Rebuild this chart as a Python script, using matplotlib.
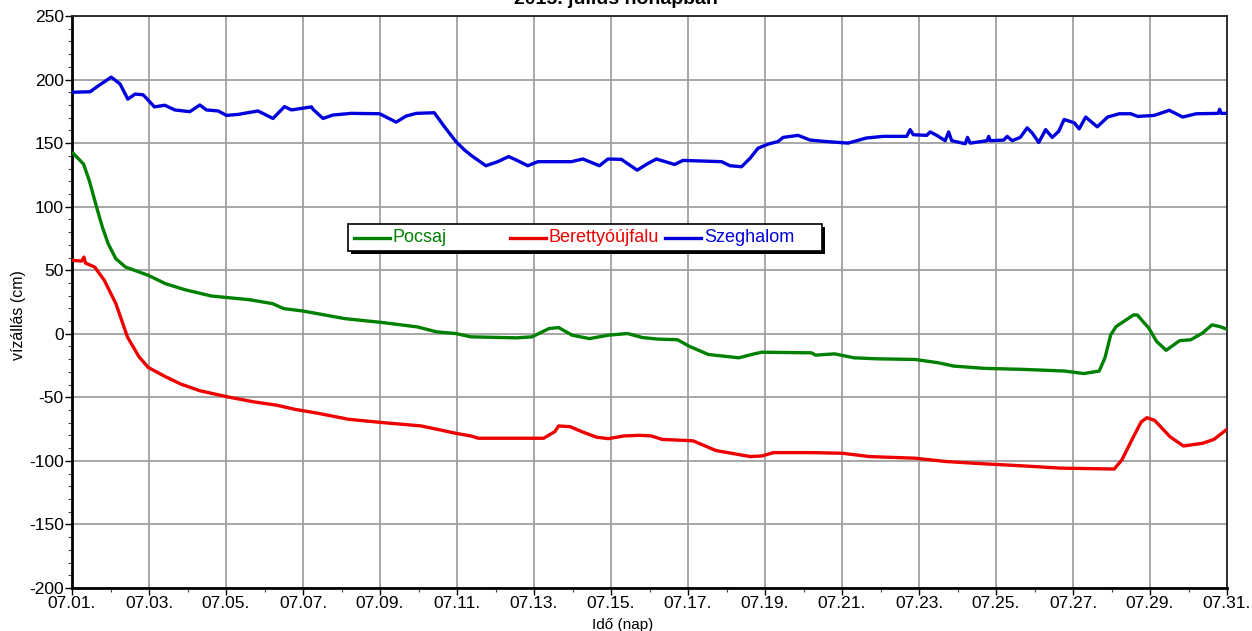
import matplotlib
matplotlib.use("Agg")
import matplotlib.pyplot as plt
from matplotlib.ticker import FixedLocator, MultipleLocator
from matplotlib.patches import Rectangle
from matplotlib.lines import Line2D

plt.rcParams['font.family'] = ['Liberation Sans', 'DejaVu Sans']
plt.rcParams['axes.unicode_minus'] = False

# Time in days since 07.01. 00:00, water level in cm
pocsaj_t = [0.03, 0.3, 0.45, 0.64, 0.79, 0.94, 1.14, 1.39, 1.98, 2.43, 2.93, 3.62, 4.61, 5.21, 5.5, 6.0,
            7.09, 8.08, 8.97, 9.47, 9.97, 10.36, 11.55, 11.95, 12.39, 12.64, 12.99, 13.44, 13.93, 14.43,
            14.82, 15.23, 15.73, 16.03, 16.53, 17.32, 17.72, 17.92, 19.21, 19.31, 19.81, 20.31, 20.91,
            21.9, 22.5, 22.9, 23.69, 24.69, 25.78, 26.28, 26.68, 26.83, 26.98, 27.12, 27.57, 27.67,
            27.97, 28.17, 28.42, 28.77, 29.06, 29.36, 29.61, 29.81, 30.0]
pocsaj_v = [142, 133.5, 120.4, 99.5, 83.8, 70.8, 59, 52.5, 46, 39.4, 34.7, 29.7, 26.8, 23.7, 19.8, 17.9,
            11.9, 8.8, 5.4, 1.5, 0.2, -2.4, -3.2, -2.4, 4.1, 4.9, -1.1, -3.8, -1.1, 0.2,
            -3, -4.2, -4.7, -9.8, -16.3, -18.9, -15.8, -14.5, -15, -16.8, -15.8, -18.9, -19.7,
            -20.2, -22.8, -25.4, -27.2, -28, -29.3, -31.3, -29.3, -18.9, -0.8, 5.7, 14.8, 14.8,
            4.4, -6, -13, -5.4, -4.7, 0.5, 7, 5.7, 3.6]

berettyo_t = [0.03, 0.25, 0.31, 0.35, 0.59, 0.84, 1.14, 1.44, 1.74, 1.98, 2.43, 2.83, 3.32, 4.02, 4.71,
              5.3, 5.8, 6.4, 7.19, 8.08, 9.07, 9.57, 9.97, 10.36, 10.56, 11.06, 11.55, 12.25, 12.54,
              12.64, 12.94, 13.24, 13.63, 13.93, 14.33, 14.72, 15.04, 15.33, 16.13, 16.73, 17.62,
              17.92, 18.22, 19.21, 20.01, 20.71, 21.9, 22.7, 23.69, 24.69, 25.68, 27.07, 27.27,
              27.57, 27.77, 27.92, 28.12, 28.52, 28.87, 29.36, 29.66, 30.0]
berettyo_v = [57.7, 57.2, 60.3, 55.6, 52.5, 42, 23.7, -2.5, -18.1, -26.5, -33.8, -39.6, -44.8, -49.5, -53.5,
              -56.1, -59.5, -62.6, -67.3, -69.9, -72.5, -75.7, -78.3, -80.4, -82.2, -82.2, -82.2, -82.2, -77,
              -72.5, -73.1, -77, -81.4, -82.5, -80.4, -79.9, -80.3, -83.1, -84.2, -91.9, -96.6,
              -96.1, -93.5, -93.5, -94, -96.6, -97.9, -100.5, -102.3, -103.9, -105.7, -106.4, -99.2,
              -81, -69.4, -66, -68.1, -81, -88.3, -86.2, -83.1, -75.1]

szeghalom_t = [0, 0.47, 0.69, 1.02, 1.25, 1.45, 1.64, 1.85, 2.14, 2.41, 2.67, 3.06, 3.32, 3.49, 3.8, 4.01,
               4.32, 4.83, 5.22, 5.52, 5.7, 6.22, 6.26, 6.52, 6.78, 7.25, 7.99, 8.42, 8.68, 8.94, 9.41,
               9.67, 9.97, 10.19, 10.41, 10.75, 11.06, 11.34, 11.54, 11.84, 12.1, 12.97, 13.27, 13.7,
               13.92, 14.27, 14.68, 14.96, 15.18, 15.65, 15.87, 16.87, 17.09, 17.39, 17.61, 17.82,
               18.08, 18.34, 18.47, 18.86, 19.17, 19.56, 20.16, 20.63, 21.07, 21.68, 21.77, 21.85,
               22.2, 22.29, 22.46, 22.68, 22.77, 22.85, 23.2, 23.26, 23.33, 23.77, 23.81, 23.85, 24.2,
               24.29, 24.42, 24.63, 24.81, 24.94, 25.11, 25.29, 25.46, 25.63, 25.77, 26.03, 26.16,
               26.33, 26.63, 26.9, 27.2, 27.5, 27.68, 28.11, 28.5, 28.85, 29.2, 29.77, 29.81, 29.85, 30.0]
szeghalom_v = [190, 190.4, 195.2, 201.9, 196.5, 184.6, 188.6, 188, 178.5, 179.8, 176.1, 174.7, 180, 176.1, 175.3, 171.8,
               172.6, 175.3, 169.4, 178.7, 176.1, 178.5, 176.6, 169.4, 172.1, 173.4, 173.1, 166.5, 171.3, 173.4, 173.9,
               163, 151.3, 144.7, 139.4, 132.2, 135.4, 139.4, 136.7, 132.2, 135.4, 135.4, 137.5, 132.2,
               137.5, 137.2, 128.7, 134, 137.5, 133.2, 136.4, 135.4, 132.2, 131.4, 138, 146,
               149.2, 151.3, 154.5, 156.1, 152.4, 151.3, 150, 154, 155.3, 155.3, 160.6, 156.6,
               156.1, 158.8, 156.1, 151.9, 158.8, 151.9, 149.5, 154.5, 150, 151.9, 155.3, 151.9, 152.4,
               155.3, 151.9, 154.5, 162, 158, 150.5, 160.6, 154.5, 159.3, 168.6, 166, 161.2,
               170.5, 162.8, 170.5, 173.1, 173.1, 171, 171.8, 175.8, 170.5, 173.1, 173.4, 176.6, 173.4, 173.4]

station_names = ['Pocsaj', 'Berettyóújfalu', 'Szeghalom']
station_colors = ['#008000', '#ee0000', '#0000dd']

tick_days = list(range(0, 31, 2))
tick_labels = ['07.%02d.' % (d + 1) for d in tick_days]

fig = plt.figure(figsize=(12.52, 6.31), dpi=100)
ax = fig.add_axes([72 / 1252, 1 - 588 / 631, 1155 / 1252, 572 / 631])

series = [(pocsaj_t, pocsaj_v), (berettyo_t, berettyo_v), (szeghalom_t, szeghalom_v)]
for (t, v), name, color in zip(series, station_names, station_colors):
    ax.plot(t, v, color=color, lw=2.4, solid_joinstyle='round', zorder=3, label=name)

ax.set_xlim(0, 30)
ax.set_ylim(-200, 250)
ax.xaxis.set_major_locator(FixedLocator(tick_days))
ax.set_xticklabels(tick_labels)
ax.xaxis.set_minor_locator(MultipleLocator(1))
ax.yaxis.set_major_locator(MultipleLocator(50))
ax.yaxis.set_minor_locator(MultipleLocator(10))
ax.tick_params(which='major', direction='out', length=5, width=1, colors='black',
               labelsize=12.5, pad=1)
ax.tick_params(axis='x', which='major', pad=1)
ax.tick_params(which='minor', direction='out', length=3, width=0.8, colors='#444444')
ax.grid(True, which='major', color='#a0a0a0', lw=1.3, zorder=0)
ax.set_axisbelow(True)

for side in ['left', 'bottom']:
    ax.spines[side].set_linewidth(2)
    ax.spines[side].set_color('black')
for side in ['top', 'right']:
    ax.spines[side].set_linewidth(1.3)
    ax.spines[side].set_color('#222222')

fig.text(19 / 1252, 0.5, 'vízállás (cm)', rotation=90, ha='center', va='center', fontsize=11.5)
fig.text(623 / 1252, 1 - 629 / 631, 'Idő (nap)', ha='center', va='baseline', fontsize=11)
fig.text(616 / 1252, 1 - 4 / 631, '2015. július hónapban', ha='center', va='baseline',
         fontsize=14, fontweight='bold')

# Legend box with drop shadow, entries in equal-width columns
lx0, lx1 = (348 - 72) / 1155, (822 - 72) / 1155
ly0, ly1 = 1 - (251 - 16) / 572, 1 - (224 - 16) / 572
sx, sy = 3 / 1155, 3 / 572
ax.add_patch(Rectangle((lx0 + sx, ly0 - sy), lx1 - lx0, ly1 - ly0, transform=ax.transAxes,
                       facecolor='black', edgecolor='none', zorder=5))
ax.add_patch(Rectangle((lx0, ly0), lx1 - lx0, ly1 - ly0, transform=ax.transAxes,
                       facecolor='white', edgecolor='black', lw=1.2, zorder=6))
col_w = 155.5 / 1155
yc = (ly0 + ly1) / 2
for i, (name, color) in enumerate(zip(station_names, station_colors)):
    hx = (354 - 72) / 1155 + i * col_w
    ax.add_line(Line2D([hx, hx + 36 / 1155], [yc, yc], transform=ax.transAxes, color=color,
                       lw=2.4, zorder=7))
    ax.text(hx + 39 / 1155, yc, name, transform=ax.transAxes, color=color, fontsize=13,
            ha='left', va='center', zorder=7)

fig.savefig('out.png', dpi=100)
